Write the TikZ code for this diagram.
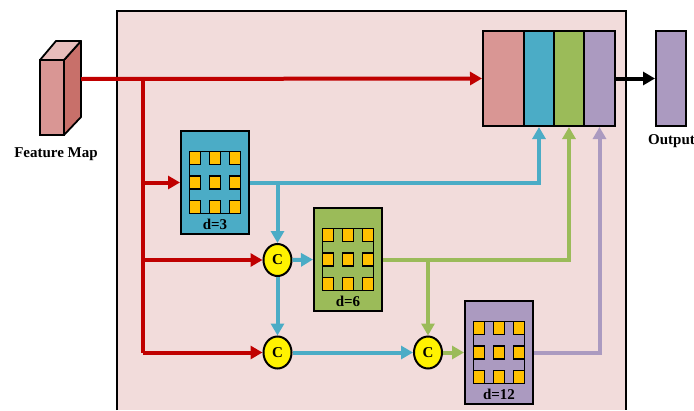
\documentclass[tikz,border=0pt]{standalone}
\usepackage{fontspec}
\setmainfont{Liberation Serif}
\usetikzlibrary{arrows.meta,shapes.geometric}
\definecolor{panelpink}{HTML}{F2DCDB}
\definecolor{fmred}{HTML}{D99694}
\definecolor{fmside}{HTML}{C8706A}
\definecolor{fmtop}{HTML}{E8BDBB}
\definecolor{linered}{HTML}{C00000}
\definecolor{dblue}{HTML}{4BACC6}
\definecolor{dgreen}{HTML}{9BBB59}
\definecolor{dpurple}{HTML}{AB9AC0}
\definecolor{cellorange}{HTML}{FFC000}
\tikzset{
	lbl/.style={font=\fontsize{15}{18}\selectfont\bfseries, inner sep=0pt},
	part/.style={draw, line width=2pt, minimum height=95pt, inner sep=0pt},
	dilbox/.style={draw, line width=2pt, minimum width=68pt, minimum height=103pt, inner sep=0pt},
	cell/.style={draw, line width=1.7pt, fill=cellorange, minimum width=11pt, minimum height=13pt, inner sep=0pt},
	cat/.style={draw, line width=2pt, fill=yellow, ellipse, minimum width=28pt, minimum height=32pt, inner sep=0pt, font=\fontsize{15}{18}\selectfont\bfseries},
	link/.style={line width=4pt, -{Triangle[width=13pt,length=12pt]}},
	plain/.style={line width=4pt}
}
\begin{document}
\begin{tikzpicture}[x=1pt,y=-1pt]
	\useasboundingbox (0,0) rectangle (694,410);
	% panel
	\fill [panelpink] (117,11) rectangle (626,410);
	\draw [line width=1.5pt] (117,410) -- (117,11) -- (626,11) -- (626,410);
	% feature map
	\draw [line width=1.8pt, fill=fmred] (40,60) rectangle (64,135);
	\draw [line width=1.8pt, fill=fmside, line join=round] (64,60) -- (81,41) -- (81,117) -- (64,135) -- cycle;
	\draw [line width=1.8pt, fill=fmtop, line join=round] (40,60) -- (56,41) -- (81,41) -- (64,60) -- cycle;
	\node [lbl] (fmlabel) at (56,154) {Feature Map};
	\coordinate (fmout) at (81,79);
	\coordinate (trunk) at (143,79);
	% concat block
	\node [part, fill=fmred, minimum width=41pt] (catred) at (503.5,78.5) {};
	\node [part, fill=dblue, minimum width=30pt] (catblue) at (539,78.5) {};
	\node [part, fill=dgreen, minimum width=30pt] (catgreen) at (569,78.5) {};
	\node [part, fill=dpurple, minimum width=31pt] (catpurple) at (599.5,78.5) {};
	% output
	\node [part, fill=dpurple, minimum width=30pt] (out) at (671,78.5) {};
	\node [lbl, anchor=west] (outlabel) at (648,141) {Output};
	% dilated boxes
	\node [dilbox, fill=dblue] (d3) at (215,182.5) {};
	\node [dilbox, fill=dgreen] (d6) at (348,259.5) {};
	\node [dilbox, fill=dpurple] (d12) at (499,352.5) {};
	\foreach \boxname/\boxtext in {d3/d=3, d6/d=6, d12/d=12}{
		\draw [line width=1.8pt] ([shift={(-25.5,-31)}]\boxname.center) rectangle ([shift={(25.5,31)}]\boxname.center);
		\foreach \i in {-20,0,20}
			\foreach \j in {-24.5,0,24.5}
				\node [cell] at ([shift={(\i,\j)}]\boxname.center) {};
		\node [lbl] at ([yshift=41.5pt*-1]\boxname.center) {\boxtext};
	}
	% concat circles
	\node [cat] (c1) at (277.5,260) {C};
	\node [cat] (c2) at (277.5,352.5) {C};
	\node [cat] (c3) at (428,352.5) {C};
	% red lines
	\draw [link, linered] (fmout) -- (catred.west);
	\draw [plain, linered] (trunk) -- (trunk |- c2.west);
	\draw [link, linered] (trunk |- d3.west) -- (d3.west);
	\draw [link, linered] (trunk |- c1.west) -- (c1.west);
	\draw [link, linered] (trunk |- c2.west) -- (c2.west);
	% blue lines
	\draw [link, dblue] (d3.east) -| (catblue.south);
	\draw [link, dblue] (c1 |- d3.east) -- (c1.north);
	\draw [link, dblue] (c1.east) -- (d6.west);
	\draw [link, dblue] (c1.south) -- (c2.north);
	\draw [link, dblue] (c2.east) -- (c3.west);
	% green lines
	\draw [link, dgreen] (d6.east) -| (catgreen.south);
	\draw [link, dgreen] (c3 |- d6.east) -- (c3.north);
	\draw [link, dgreen] (c3.east) -- (d12.west);
	% purple line
	\draw [link, dpurple] (d12.east) -| (catpurple.south);
	% black line
	\draw [link, black] (catpurple.east) -- (out.west);
\end{tikzpicture}
\end{document}
